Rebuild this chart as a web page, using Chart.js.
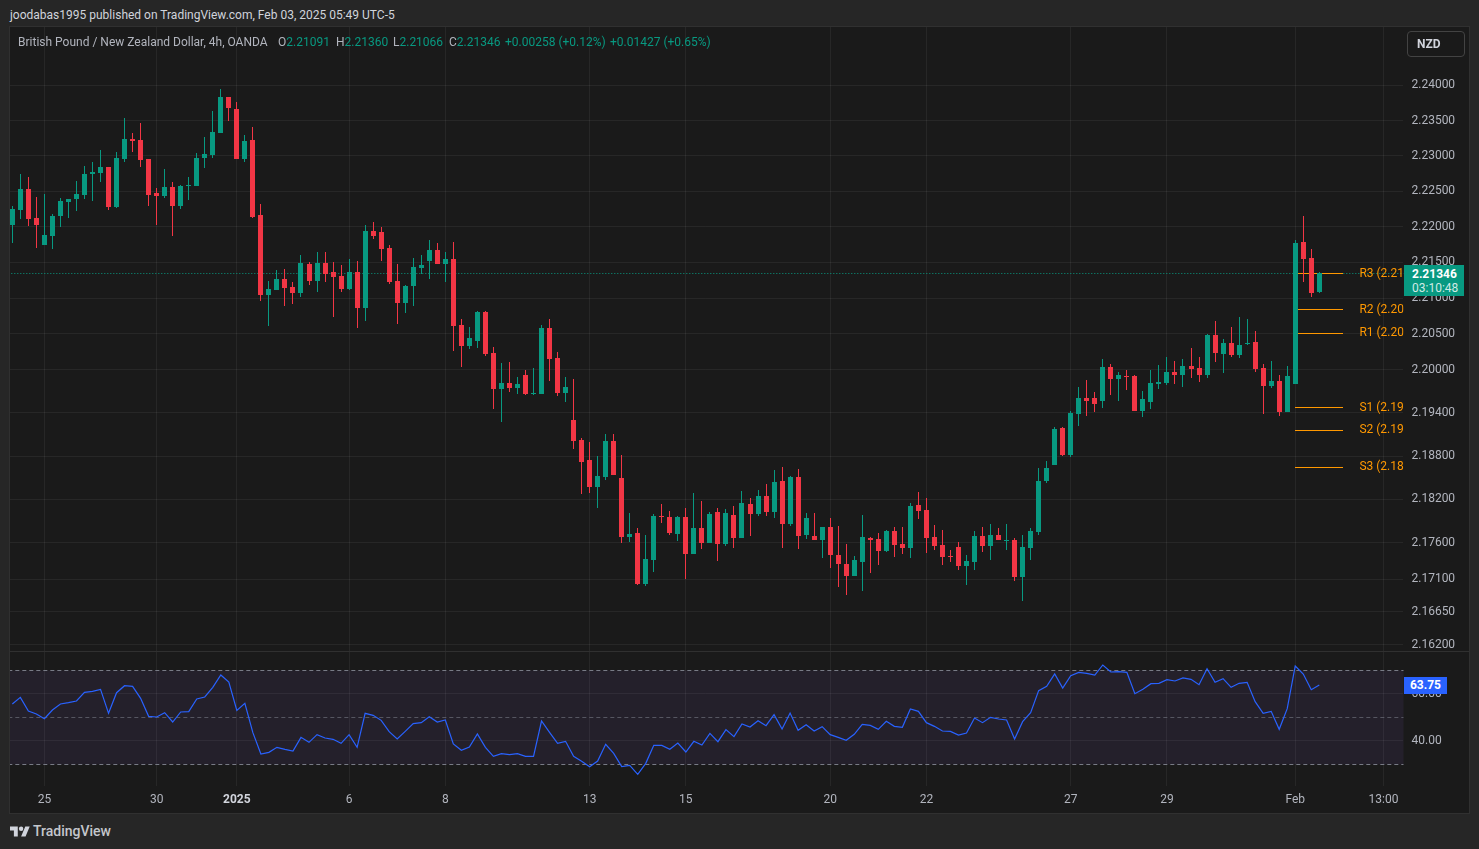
<!DOCTYPE html>
<html>
<head>
<meta charset="utf-8">
<title>GBPNZD 4h</title>
<script src="https://cdn.jsdelivr.net/npm/chart.js@4"></script>
<style>
html,body{margin:0;padding:0;background:#262626;width:1479px;height:849px;overflow:hidden;font-family:Roboto,sans-serif;}
canvas{position:absolute;left:0;background:#1a1a1a;display:block;z-index:1;}
.t{position:absolute;white-space:nowrap;font-size:12px;line-height:14px;z-index:3;}
.g{color:#089981}.n{color:#b2b5be}
#leftCover{position:absolute;left:0;top:26px;width:10px;height:788px;background:#262626;z-index:2;border-right:0;}
#frame{position:absolute;left:9px;top:26px;width:1459px;height:786px;border:1px solid #303030;z-index:2;pointer-events:none;}
#sep{position:absolute;left:10px;top:651px;width:1459px;height:1px;background:#303030;z-index:2;}
#nzd{position:absolute;left:1407px;top:31px;width:56px;height:24px;border:1px solid #434343;border-radius:4px;z-index:3;color:#d1d4dc;font-size:12px;font-weight:700;line-height:24px;padding-left:0;text-indent:9px;}
#lastBadge{position:absolute;left:1404px;top:265px;width:60px;height:31px;background:#089981;z-index:3;color:#fff;font-size:12px;line-height:14px;text-indent:8px;padding-top:2px;box-sizing:border-box;}
#lastBadge b{display:block;font-weight:700;}
#lastBadge span{display:block;color:rgba(255,255,255,.82);}
#rsiBadge{position:absolute;left:1404px;top:677px;width:43px;height:17px;background:#2962ff;z-index:3;color:#fff;font-size:12px;font-weight:700;line-height:17px;text-align:center;}
#logo{position:absolute;left:10px;top:826px;z-index:3;}
</style>
</head>
<body>
<canvas id="price" width="1469" height="624" style="top:27px"></canvas>
<canvas id="rsi" width="1469" height="161" style="top:652px"></canvas>
<div id="leftCover"></div><div id="frame"></div><div id="sep"></div>

<div class="t" style="left:10px;top:8px;color:#d1d4dc">joodabas1995 published on TradingView.com, Feb 03, 2025 05:49 UTC-5</div>
<div class="t n" style="left:18px;top:35px">British Pound / New Zealand Dollar, 4h, OANDA</div>
<div class="t n" style="left:278px;top:35px">O<span class="g">2.21091</span></div>
<div class="t n" style="left:336px;top:35px">H<span class="g">2.21360</span></div>
<div class="t n" style="left:393px;top:35px">L<span class="g">2.21066</span></div>
<div class="t n" style="left:449px;top:35px">C<span class="g">2.21346</span></div>
<div class="t g" style="left:505px;top:35px">+0.00258 (+0.12%)</div>
<div class="t g" style="left:610px;top:35px">+0.01427 (+0.65%)</div>
<div id="nzd">NZD</div>
<div id="lastBadge"><b>2.21346</b><span>03:10:48</span></div>
<div id="rsiBadge">63.75</div>
<svg id="logo" width="20" height="11" viewBox="0 4 36 18"><path fill="#d1d4dc" d="M14 22H7V11H0V4h14v18zM28 22h-8l7.5-18h8L28 22z"/><circle fill="#d1d4dc" cx="20" cy="8" r="4"/></svg>
<div class="t" style="left:33px;top:823px;color:#c4c6cc;font-size:14px;line-height:17px;font-weight:500">TradingView</div>

<script>
const opens = [
2.22033,2.22244,2.22540,2.22131,2.21751,2.21878,2.22159,2.22357,2.22399,2.22455,
2.22751,2.22765,2.22850,2.22286,2.22962,2.23244,2.23230,2.22962,2.22483,2.22441,
2.22568,2.22300,2.22582,2.22582,2.22976,2.23019,2.23328,2.23836,2.23667,2.22962,
2.23230,2.22174,2.21047,2.21117,2.21272,2.21159,2.21075,2.21483,2.21244,2.21497,
2.21371,2.21314,2.21131,2.21371,2.20864,2.21948,2.21934,2.21709,2.21244,2.20934,
2.21174,2.21427,2.21526,2.21681,2.21483,2.21554,2.20624,2.20328,2.20399,2.20807,
2.20230,2.19727,2.19810,2.19740,2.19921,2.19658,2.19658,2.20581,2.20159,2.19672,
2.19298,2.19021,2.18744,2.18370,2.18508,2.19007,2.18495,2.17677,2.17733,2.17040,
2.17359,2.17968,2.17954,2.17719,2.17954,2.17442,2.17802,2.17594,2.18024,2.17580,
2.17982,2.17663,2.18134,2.17996,2.18245,2.18024,2.18453,2.17857,2.18508,2.17705,
2.17691,2.17635,2.17815,2.17428,2.17303,2.17151,2.17331,2.17663,2.17649,2.17483,
2.17760,2.17580,2.17525,2.18120,2.18051,2.17677,2.17566,2.17414,2.17538,2.17275,
2.17331,2.17691,2.17552,2.17705,2.17622,2.17635,2.17137,2.17525,2.17746,2.18453,
2.18675,2.19187,2.18813,2.19381,2.19603,2.19603,2.19561,2.20032,2.19866,2.19907,
2.19907,2.19423,2.19547,2.19797,2.19810,2.19963,2.19921,2.20046,2.20018,2.19921,
2.20483,2.20215,2.20370,2.20201,2.20356,2.20384,2.20018,2.19769,2.19837,2.19408,
2.19796,2.21793,2.21568,2.21091];
const highs = [
2.22300,2.22751,2.22709,2.22427,2.22469,2.22188,2.22413,2.22399,2.22652,2.22864,
2.22920,2.23089,2.22850,2.23061,2.23540,2.23328,2.23469,2.22962,2.22554,2.22821,
2.22638,2.22596,2.22709,2.23047,2.23272,2.23638,2.23948,2.23836,2.23765,2.23300,
2.23413,2.22328,2.21244,2.21399,2.21413,2.21230,2.21610,2.21512,2.21652,2.21652,
2.21512,2.21469,2.21554,2.21526,2.22033,2.22075,2.22005,2.21751,2.21483,2.21188,
2.21568,2.21610,2.21821,2.21779,2.21652,2.21793,2.20709,2.20596,2.20821,2.20821,
2.20314,2.20089,2.20103,2.19893,2.19990,2.20018,2.20624,2.20708,2.20243,2.19894,
2.19866,2.19049,2.18993,2.18799,2.19104,2.19104,2.18813,2.18010,2.17802,2.17705,
2.17996,2.18134,2.18037,2.17968,2.18079,2.18287,2.18176,2.18024,2.18079,2.18065,
2.18107,2.18315,2.18218,2.18328,2.18411,2.18605,2.18647,2.18522,2.18619,2.18009,
2.18009,2.17815,2.17940,2.17829,2.17580,2.17414,2.17982,2.17677,2.17732,2.17774,
2.17815,2.17815,2.18148,2.18300,2.18217,2.17843,2.17774,2.17497,2.17608,2.17428,
2.17760,2.17815,2.17857,2.17802,2.17857,2.17663,2.17705,2.17802,2.18633,2.18730,
2.19201,2.19201,2.19423,2.19755,2.19852,2.19686,2.20145,2.20075,2.19963,2.19990,
2.19921,2.19700,2.19990,2.20060,2.20173,2.20117,2.20145,2.20300,2.20173,2.20497,
2.20680,2.20427,2.20596,2.20737,2.20708,2.20539,2.20075,2.20117,2.19921,2.20047,
2.21821,2.22159,2.21695,2.21360];
const lows = [
2.21779,2.22117,2.22019,2.21709,2.21751,2.21695,2.22005,2.22131,2.22230,2.22399,
2.22371,2.22638,2.22244,2.22272,2.22920,2.23061,2.22850,2.22300,2.22033,2.22413,
2.21878,2.22258,2.22385,2.22582,2.22836,2.22976,2.23328,2.23498,2.22962,2.22920,
2.22131,2.20962,2.20610,2.21117,2.20892,2.20920,2.21019,2.21188,2.21089,2.21230,
2.20737,2.21089,2.21117,2.20582,2.20681,2.21836,2.21526,2.21202,2.20638,2.20793,
2.20892,2.21343,2.21272,2.21483,2.21230,2.20258,2.20033,2.20286,2.20300,2.20188,
2.19450,2.19270,2.19685,2.19657,2.19644,2.19644,2.19658,2.19838,2.19630,2.19547,
2.18896,2.18273,2.18287,2.18079,2.18467,2.18536,2.17594,2.17608,2.17026,2.17013,
2.17206,2.17871,2.17705,2.17622,2.17109,2.17442,2.17511,2.17594,2.17345,2.17553,
2.17525,2.17663,2.17691,2.17968,2.17968,2.17941,2.17525,2.17829,2.17511,2.17649,
2.17635,2.17386,2.17248,2.16998,2.16887,2.17151,2.16943,2.17192,2.17289,2.17469,
2.17400,2.17441,2.17386,2.17926,2.17455,2.17497,2.17289,2.17331,2.17220,2.17026,
2.17220,2.17469,2.17358,2.17635,2.17497,2.17081,2.16804,2.17358,2.17705,2.18425,
2.18675,2.18799,2.18785,2.19215,2.19353,2.19409,2.19464,2.19644,2.19561,2.19713,
2.19423,2.19339,2.19450,2.19727,2.19783,2.19797,2.19755,2.19880,2.19824,2.19880,
2.20103,2.19949,2.20173,2.20159,2.20342,2.19963,2.19381,2.19741,2.19353,2.19408,
2.19796,2.21230,2.21019,2.21066];
const closes = [
2.22258,2.22540,2.22117,2.22033,2.21892,2.22159,2.22371,2.22399,2.22469,2.22751,
2.22779,2.22850,2.22286,2.22976,2.23244,2.23216,2.22948,2.22455,2.22441,2.22568,
2.22300,2.22582,2.22596,2.22976,2.23033,2.23343,2.23836,2.23681,2.22962,2.23216,
2.22145,2.21047,2.21131,2.21272,2.21145,2.21075,2.21497,2.21244,2.21497,2.21343,
2.21300,2.21131,2.21371,2.20864,2.21948,2.21878,2.21695,2.21230,2.20934,2.21174,
2.21441,2.21469,2.21681,2.21483,2.21554,2.20610,2.20328,2.20441,2.20807,2.20216,
2.19727,2.19810,2.19740,2.19796,2.19657,2.19672,2.20581,2.20145,2.19671,2.19755,
2.19007,2.18716,2.18370,2.18522,2.19007,2.18536,2.17677,2.17719,2.17040,2.17373,
2.17968,2.17954,2.17733,2.17954,2.17442,2.17802,2.17594,2.17996,2.17580,2.18010,
2.17663,2.18148,2.17996,2.18245,2.18024,2.18439,2.17857,2.18508,2.17691,2.17940,
2.17635,2.17815,2.17428,2.17303,2.17151,2.17358,2.17677,2.17635,2.17483,2.17760,
2.17566,2.17525,2.18106,2.18037,2.17663,2.17552,2.17400,2.17400,2.17275,2.17345,
2.17691,2.17552,2.17705,2.17635,2.17635,2.17137,2.17538,2.17760,2.18453,2.18633,
2.19173,2.18813,2.19395,2.19603,2.19561,2.19519,2.20032,2.19866,2.19921,2.19893,
2.19423,2.19589,2.19810,2.19824,2.19963,2.19921,2.20046,2.20004,2.19921,2.20483,
2.20229,2.20370,2.20201,2.20342,2.20370,2.20004,2.19769,2.19838,2.19408,2.19907,
2.21779,2.21554,2.21075,2.21346];
const rsiValues = [
55.66,58.50,52.68,51.41,49.42,53.11,55.66,56.23,56.94,60.63,
61.05,61.90,51.69,60.48,63.46,63.18,58.07,50.41,50.13,51.97,
48.00,52.26,52.40,57.79,58.64,62.75,68.00,65.02,52.97,55.95,
43.46,34.39,35.09,37.22,36.37,35.66,41.48,39.35,42.61,41.20,
40.63,38.92,42.61,37.22,51.69,50.84,48.71,43.89,40.77,44.03,
47.29,47.72,50.27,48.00,48.85,38.64,35.95,37.36,42.90,37.22,
33.39,34.53,34.10,34.53,33.39,33.39,48.43,43.61,38.92,39.78,
33.39,31.27,29.00,31.41,38.50,34.67,29.00,29.56,25.73,30.41,
38.07,38.07,36.37,39.07,35.24,39.78,38.22,43.18,39.63,44.74,
41.76,47.15,45.88,48.57,46.44,51.12,45.02,51.83,44.46,46.87,
44.17,46.02,42.61,41.48,40.20,42.75,47.01,46.58,44.88,48.29,
46.16,45.73,53.53,52.54,47.72,46.16,44.17,44.03,42.47,43.32,
49.70,47.72,49.99,49.28,48.85,40.77,48.14,51.97,61.34,63.18,
68.43,62.47,67.72,69.14,68.71,68.00,72.26,69.28,69.42,69.14,
60.06,61.90,64.31,64.46,66.02,65.45,66.73,66.16,63.89,70.70,
64.88,66.44,62.75,64.46,64.88,56.65,51.69,52.54,44.88,53.68,
71.83,68.43,61.76,63.75];

const timeTickSlots = [4,18,28,42,54,72,84,102,114,132,144,160,171];
const timeTickLabels = ['25','30','2025','6','8','13','15','20','22','27','29','Feb','13:00'];
const priceTicks = [2.24,2.235,2.23,2.225,2.22,2.215,2.21,2.205,2.2,2.194,2.188,2.182,2.176,2.171,2.1665,2.162];
const priceMin = 2.16115, priceMax = 2.24829;
const rsiTicks = [60,40];
const rsiMin = 20.77, rsiMax = 77.79;
const rsiBandTop = 70, rsiBandMid = 50, rsiBandBottom = 30;
const lastPrice = 2.21346;
const pivotNames = ['R3 (2.21','R2 (2.20','R1 (2.20','S1 (2.19','S2 (2.19','S3 (2.18'];
const pivotValues = [2.21342,2.20835,2.20507,2.19474,2.19155,2.18643];
const pivotStartSlot = 160, pivotEndSlot = 166, pivotLabelSlot = 168;
const slotCount = 174;

const UP = '#089981', DOWN = '#f23645', ORANGE = '#ff9800';
const GRID = 'rgba(255,255,255,0.06)', TEXT = '#b2b5be';
const SLOT_W = 8 + 1/55;
const AREA_LEFT = 12.33 - SLOT_W/2;
const AREA_RIGHT = AREA_LEFT + SLOT_W*slotCount;
const AXIS_W = 1469 - AREA_RIGHT;

Chart.defaults.font.family = 'Roboto, sans-serif';
Chart.defaults.font.size = 12;
Chart.defaults.animation = false;

const slotLabels = Array.from({length: slotCount}, (_, i) => String(i));
const candleColor = opens.map((o, i) => closes[i] >= o ? UP : DOWN);

const snapPlugin = {
  id: 'snap',
  afterDatasetsUpdate(chart) {
    chart.data.datasets.forEach((ds, di) => {
      const meta = chart.getDatasetMeta(di);
      if (meta.type === 'bar') {
        meta.data.forEach(el => {
          el.x = Math.floor(el.x) + 0.5;
          const a = Math.round(el.y), b = Math.round(el.base);
          el.y = a;
          el.base = a === b ? a + 1 : b;
          el.height = el.base - el.y;
        });
      } else if (ds.snapLine) {
        meta.data.forEach(p => { if (!p.skip) { p.y = Math.floor(p.y) + 0.5; p.x = Math.floor(p.x); } });
      }
    });
  }
};

const priceDecor = {
  id: 'priceDecor',
  beforeDatasetsDraw(chart) {
    const {ctx, chartArea: a, scales: {y}} = chart;
    const py = Math.floor(y.getPixelForValue(lastPrice)) + 0.5;
    ctx.save();
    ctx.strokeStyle = UP; ctx.lineWidth = 1; ctx.setLineDash([1, 2]);
    ctx.beginPath(); ctx.moveTo(a.left, py); ctx.lineTo(a.right, py); ctx.stroke();
    ctx.restore();
  },
  afterDatasetsDraw(chart) {
    const {ctx, chartArea: a, scales: {x, y}} = chart;
    ctx.save();
    ctx.beginPath(); ctx.rect(a.left, a.top, a.right - a.left, a.bottom - a.top); ctx.clip();
    ctx.fillStyle = ORANGE; ctx.font = '12px Roboto, sans-serif';
    ctx.textAlign = 'left'; ctx.textBaseline = 'middle';
    pivotNames.forEach((n, i) => ctx.fillText(n, x.getPixelForValue(pivotLabelSlot), y.getPixelForValue(pivotValues[i])));
    ctx.restore();
  }
};

const rsiDecor = {
  id: 'rsiDecor',
  beforeDatasetsDraw(chart) {
    const {ctx, chartArea: a, scales: {y}} = chart;
    const top = y.getPixelForValue(rsiBandTop), bot = y.getPixelForValue(rsiBandBottom);
    ctx.save();
    ctx.fillStyle = 'rgba(126,87,194,0.10)';
    ctx.fillRect(a.left, top, a.right - a.left, bot - top);
    ctx.lineWidth = 1; ctx.setLineDash([4, 3]);
    [[rsiBandTop, '#787b86'], [rsiBandMid, 'rgba(120,123,134,0.6)'], [rsiBandBottom, '#787b86']].forEach(([v, c]) => {
      const p = Math.floor(y.getPixelForValue(v)) + 0.5;
      ctx.strokeStyle = c;
      ctx.beginPath(); ctx.moveTo(a.left, p); ctx.lineTo(a.right, p); ctx.stroke();
    });
    ctx.restore();
  }
};

function noScalePadding(s) {
  s.paddingTop = 0; s.paddingBottom = 0; s.paddingLeft = 0; s.paddingRight = 0;
}

const timeAxisBase = {
  type: 'category',
  offset: true,
  border: {display: false},
  afterBuildTicks(s) { s.ticks = timeTickSlots.map(v => ({value: v})); }
};

const pivotDatasets = pivotValues.map(v => ({
  type: 'line',
  data: slotLabels.map((_, i) => (i >= pivotStartSlot && i <= pivotEndSlot) ? v : null),
  borderColor: ORANGE, borderWidth: 1, pointRadius: 0, tension: 0, order: 5, snapLine: true
}));

new Chart(document.getElementById('price'), {
  data: {
    labels: slotLabels,
    datasets: [
      ...pivotDatasets,
      {type: 'bar', label: 'wick', data: highs.map((h, i) => [lows[i], h]),
       backgroundColor: candleColor, barThickness: 1, grouped: false, order: 2, borderWidth: 0, inflateAmount: 0},
      {type: 'bar', label: 'body', data: opens.map((o, i) => [Math.min(o, closes[i]), Math.max(o, closes[i])]),
       backgroundColor: candleColor, barThickness: 5, grouped: false, order: 1, borderWidth: 0, inflateAmount: 0}
    ]
  },
  options: {
    responsive: false, devicePixelRatio: 1,
    layout: {padding: {left: AREA_LEFT, top: 0, right: 0, bottom: 0}},
    plugins: {legend: {display: false}, tooltip: {enabled: false}},
    scales: {
      x: {...timeAxisBase, grid: {color: GRID, offset: false, drawTicks: false},
          afterFit(s) { noScalePadding(s); s.height = 0; },
          ticks: {display: false, autoSkip: false}},
      y: {type: 'logarithmic', position: 'right', min: priceMin, max: priceMax, bounds: 'data',
          border: {display: false},
          grid: {color: GRID, drawTicks: false},
          afterBuildTicks(s) { s.ticks = priceTicks.map(v => ({value: v})); },
          afterFit(s) { noScalePadding(s); s.width = AXIS_W; },
          ticks: {autoSkip: false, color: TEXT, padding: 8, callback: v => Number(v).toFixed(5)}}
    }
  },
  plugins: [snapPlugin, priceDecor]
});

new Chart(document.getElementById('rsi'), {
  type: 'line',
  data: {
    labels: slotLabels,
    datasets: [{label: 'RSI', data: rsiValues, borderColor: '#2962ff', borderWidth: 1.2, pointRadius: 0, tension: 0}]
  },
  options: {
    responsive: false, devicePixelRatio: 1,
    layout: {padding: {left: AREA_LEFT, top: 0, right: 0, bottom: 0}},
    plugins: {legend: {display: false}, tooltip: {enabled: false}},
    scales: {
      x: {...timeAxisBase, grid: {color: GRID, offset: false, drawTicks: false},
          afterFit(s) { noScalePadding(s); s.height = 27; },
          ticks: {autoSkip: false, maxRotation: 0, padding: 7,
                  color: c => c.tick && c.tick.label === '2025' ? '#d1d4dc' : TEXT,
                  font: c => ({weight: c.tick && c.tick.label === '2025' ? '700' : '400', size: 12}),
                  callback: (v, i) => timeTickLabels[i]}},
      y: {type: 'linear', position: 'right', min: rsiMin, max: rsiMax, bounds: 'data',
          border: {display: false},
          grid: {color: GRID, drawTicks: false},
          afterBuildTicks(s) { s.ticks = rsiTicks.map(v => ({value: v})); },
          afterFit(s) { noScalePadding(s); s.width = AXIS_W; },
          ticks: {autoSkip: false, color: TEXT, padding: 8, callback: v => Number(v).toFixed(2)}}
    }
  },
  plugins: [rsiDecor]
});
</script>
</body>
</html>
